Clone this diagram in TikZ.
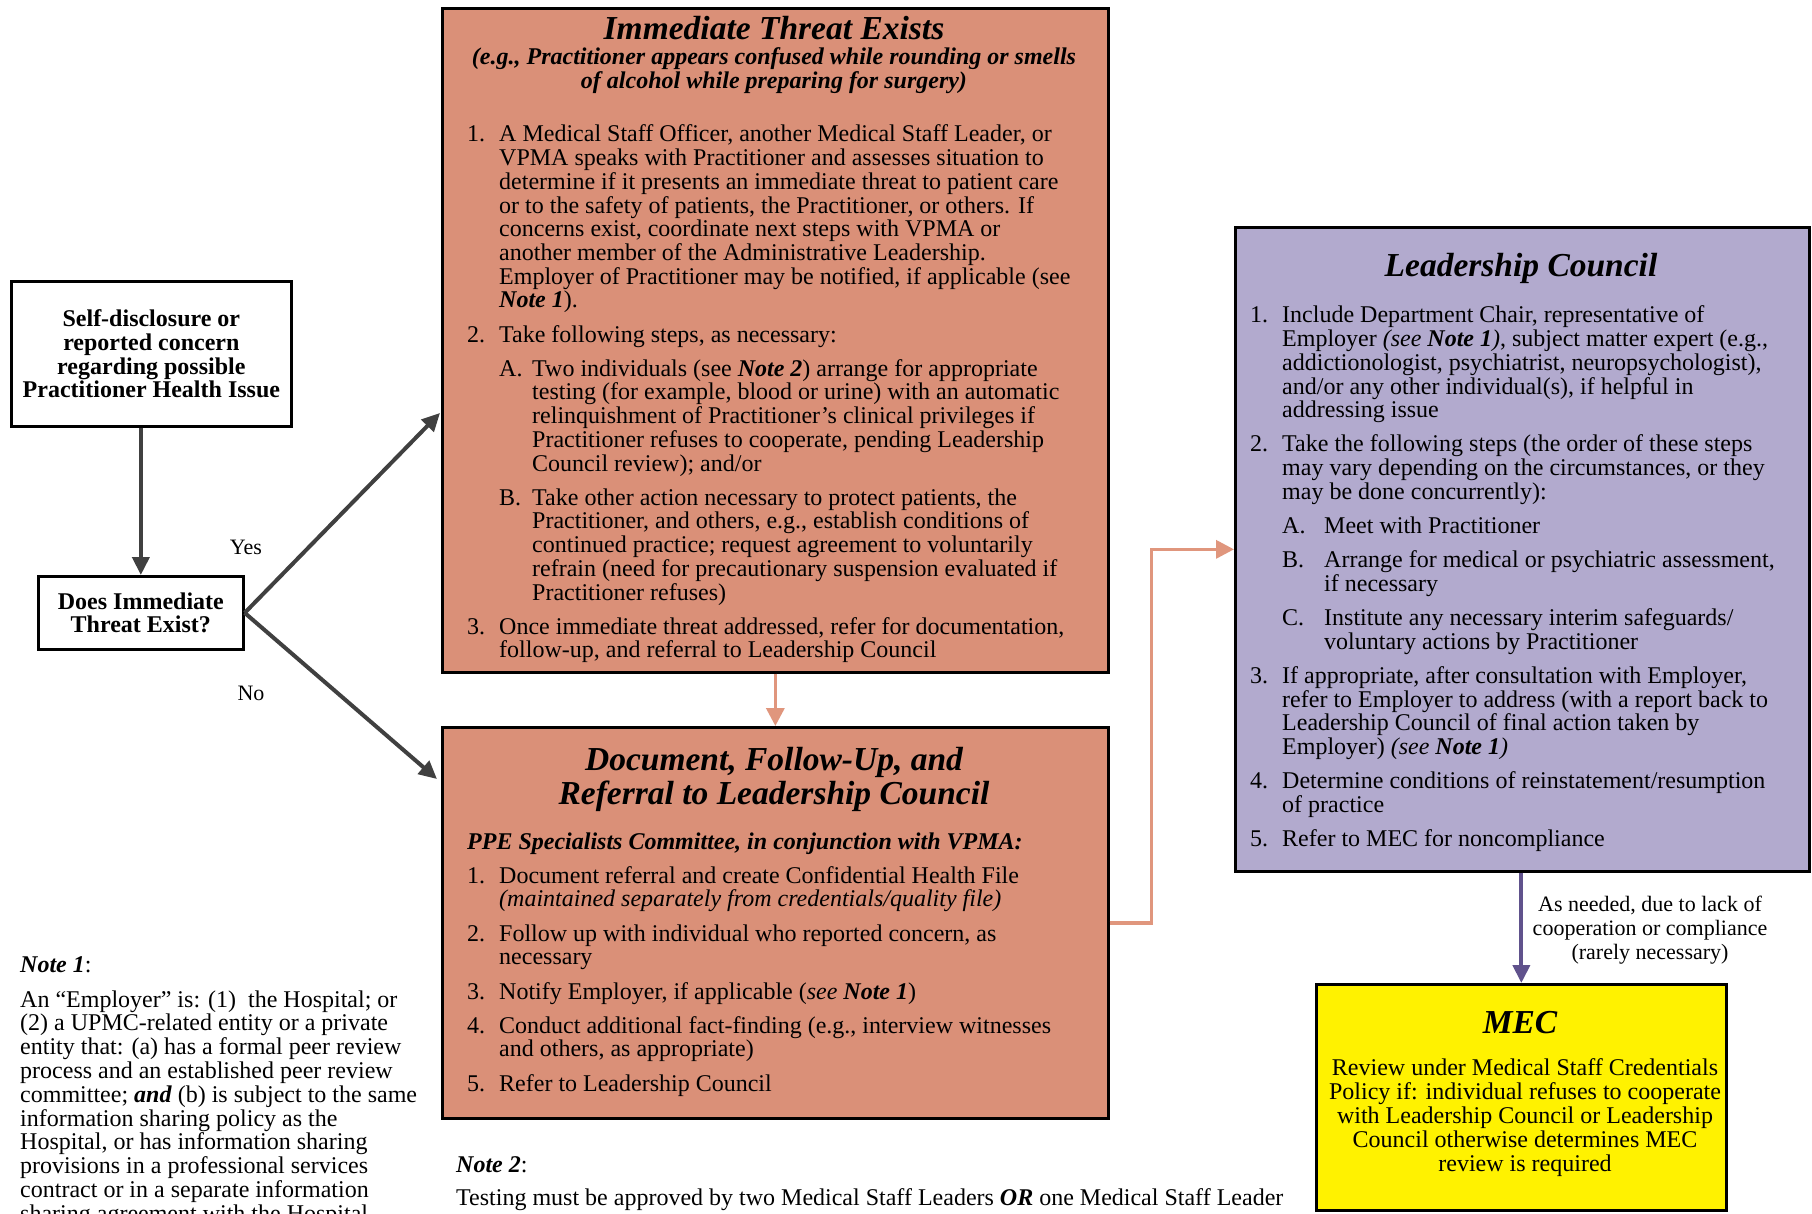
\documentclass[tikz,border=0pt]{standalone}
\usepackage{fontspec}
\setmainfont{Liberation Serif}
\usetikzlibrary{arrows.meta,calc}
\definecolor{orangefill}{RGB}{218,144,120}
\definecolor{lcfill}{RGB}{178,170,206}
\definecolor{orangeline}{RGB}{224,150,125}
\definecolor{purpleline}{RGB}{96,82,140}
\definecolor{darkline}{RGB}{64,64,64}
\newcommand\bodyfont{\fontsize{24}{23.7}\selectfont}
\newcommand\boldbody{\fontsize{24}{23.7}\selectfont\bfseries}
\newcommand\notefont{\fontsize{22}{24}\selectfont}
\newcommand\noteonefont{\fontsize{24}{23.8}\selectfont}
\newcommand\titlefont{\fontsize{33.5}{34.7}\selectfont\bfseries\itshape}
\newcommand\bi[1]{\textbf{\textit{#1}}}
\newcommand\myitem[4]{\par\noindent\hangindent=#2pt\hangafter=1\hspace*{#1pt}\makebox[\dimexpr#2pt-#1pt\relax][l]{#3}#4\par}
\newcommand\gap{\vspace{10.5pt}}
\newcommand\listbox[2]{\parbox[t]{#1pt}{\bodyfont\parindent=0pt\rightskip=0pt plus 1fil\relax #2}}
\begin{document}
\begin{tikzpicture}[x=1pt,y=-1pt,
  plainbox/.style={draw=black, line width=2.7pt, fill=white, inner sep=0pt},
  obox/.style={draw=black, line width=2.7pt, fill=orangefill, inner sep=0pt},
  lbox/.style={draw=black, line width=2.7pt, fill=lcfill, inner sep=0pt},
  mbox/.style={draw=black, line width=2.7pt, fill=yellow, inner sep=0pt},
  txt/.style={inner sep=0pt, anchor=base west},
  ctxt/.style={inner sep=0pt, anchor=base},
  darrow/.style={draw=darkline, line width=4pt, -{Triangle[length=18pt,width=17pt]}},
  oarrow/.style={draw=orangeline, line width=3.5pt, -{Triangle[length=18pt,width=18pt]}},
  parrow/.style={draw=purpleline, line width=4pt, -{Triangle[length=18pt,width=17pt]}}
]
\useasboundingbox (0,0) rectangle (1812,1214);
\fill[white] (0,0) rectangle (1812,1214);

% boxes
\node[plainbox, minimum width=280pt, minimum height=145pt, anchor=north west, align=center, font=\boldbody] (selfbox) at (10,280) {Self-disclosure or\\reported concern\\regarding possible\\Practitioner Health Issue};
\node[plainbox, minimum width=205pt, minimum height=73pt, anchor=north west, align=center, font=\boldbody] (doesbox) at (37,575) {Does Immediate\\Threat Exist?};
\node[obox, minimum width=666pt, minimum height=664pt, anchor=north west] (itbox) at (441,7) {};
\node[obox, minimum width=666pt, minimum height=391pt, anchor=north west] (docbox) at (441,726) {};
\node[lbox, minimum width=574pt, minimum height=644pt, anchor=north west] (lcbox) at (1234,226) {};
\node[mbox, minimum width=410pt, minimum height=226pt, anchor=north west] (mecbox) at (1315,983) {};

% Immediate threat box text
\node[ctxt, font=\titlefont] (ittitle) at (774,40) {Immediate Threat Exists};
\node[ctxt] (itsub) at (774,65) {\parbox[t]{640pt}{\centering\fontsize{24}{24}\selectfont\bfseries\itshape (e.g., Practitioner appears confused while rounding or smells\\of alcohol while preparing for surgery)}};
\node[txt] (itlist) at (467,142) {\listbox{640}{%
\myitem{0}{32}{1.}{A Medical Staff Officer, another Medical Staff Leader, or\\VPMA speaks with Practitioner and assesses situation to\\determine if it presents an immediate threat to patient care\\or to the safety of patients, the Practitioner, or others. If\\concerns exist, coordinate next steps with VPMA or\\another member of the Administrative Leadership.\\Employer of Practitioner may be notified, if applicable (see\\\bi{Note 1}).}
\gap
\myitem{0}{32}{2.}{Take following steps, as necessary:}
\gap
\myitem{32}{65}{A.}{Two individuals (see \bi{Note 2}) arrange for appropriate\\testing (for example, blood or urine) with an automatic\\relinquishment of Practitioner’s clinical privileges if\\Practitioner refuses to cooperate, pending Leadership\\Council review); and/or}
\gap
\myitem{32}{65}{B.}{Take other action necessary to protect patients, the\\Practitioner, and others, e.g., establish conditions of\\continued practice; request agreement to voluntarily\\refrain (need for precautionary suspension evaluated if\\Practitioner refuses)}
\gap
\myitem{0}{32}{3.}{Once immediate threat addressed, refer for documentation,\\follow-up, and referral to Leadership Council}}};

% Document box text
\node[ctxt] (doctitle) at (774,770) {\parbox[t]{640pt}{\centering\titlefont Document, Follow-Up, and\\Referral to Leadership Council}};
\node[txt] (doclist) at (467,849) {\listbox{640}{%
\bi{PPE Specialists Committee, in conjunction with VPMA:}\par
\gap
\myitem{0}{32}{1.}{Document referral and create Confidential Health File\\\textit{(maintained separately from credentials/quality file)}}
\gap
\myitem{0}{32}{2.}{Follow up with individual who reported concern, as\\necessary}
\gap
\myitem{0}{32}{3.}{Notify Employer, if applicable (\textit{see \textbf{Note 1}})}
\gap
\myitem{0}{32}{4.}{Conduct additional fact-finding (e.g., interview witnesses\\and others, as appropriate)}
\gap
\myitem{0}{32}{5.}{Refer to Leadership Council}}};

% Leadership council text
\node[ctxt, font=\titlefont] (lctitle) at (1521,277) {Leadership Council};
\node[txt] (lclist) at (1250,323) {\listbox{550}{%
\myitem{0}{32}{1.}{Include Department Chair, representative of\\Employer \textit{(see \textbf{Note 1})}, subject matter expert (e.g.,\\addictionologist, psychiatrist, neuropsychologist),\\and/or any other individual(s), if helpful in\\addressing issue}
\gap
\myitem{0}{32}{2.}{Take the following steps (the order of these steps\\may vary depending on the circumstances, or they\\may be done concurrently):}
\gap
\myitem{32}{74}{A.}{Meet with Practitioner}
\gap
\myitem{32}{74}{B.}{Arrange for medical or psychiatric assessment,\\if necessary}
\gap
\myitem{32}{74}{C.}{Institute any necessary interim safeguards/\\voluntary actions by Practitioner}
\gap
\myitem{0}{32}{3.}{If appropriate, after consultation with Employer,\\refer to Employer to address (with a report back to\\Leadership Council of final action taken by\\Employer) \textit{(see \textbf{Note 1})}}
\gap
\myitem{0}{32}{4.}{Determine conditions of reinstatement/resumption\\of practice}
\gap
\myitem{0}{32}{5.}{Refer to MEC for noncompliance}}};

% MEC text
\node[ctxt, font=\titlefont] (mectitle) at (1520,1033) {MEC};
\node[ctxt] (mecbody) at (1525,1075) {\parbox[t]{420pt}{\centering\fontsize{24}{24}\selectfont Review under Medical Staff Credentials\\Policy if: individual refuses to cooperate\\with Leadership Council or Leadership\\Council otherwise determines MEC\\review is required}};

% notes
\node[txt, font=\noteonefont] (note1label) at (20,972) {\bi{Note 1}:};
\node[txt] (note1body) at (20,1007) {\parbox[t]{430pt}{\noteonefont\parindent=0pt An “Employer” is: (1)\ \ the Hospital; or\\(2) a UPMC-related entity or a private\\entity that: (a) has a formal peer review\\process and an established peer review\\committee; \bi{and} (b) is subject to the same\\information sharing policy as the\\Hospital, or has information sharing\\provisions in a professional services\\contract or in a separate information\\sharing agreement with the Hospital}};
\node[txt, font=\bodyfont] (note2label) at (456,1172) {\bi{Note 2}:};
\node[txt, font=\bodyfont] (note2body) at (456,1205) {Testing must be approved by two Medical Staff Leaders \bi{OR} one Medical Staff Leader};

% labels
\node[ctxt, font=\notefont] (yeslabel) at (246,554) {Yes};
\node[ctxt, font=\notefont] (nolabel) at (251,700) {No};
\node[ctxt] (mecarrowlabel) at (1650,911) {\parbox[t]{300pt}{\centering\notefont As needed, due to lack of\\cooperation or compliance\\(rarely necessary)}};

% connectors
\coordinate (yesend) at ($(itbox.north west)+(-1,406)$);
\coordinate (noend) at ($(docbox.north west)+(-4,53)$);
\draw[darrow] (selfbox.south -| doesbox.north) -- (doesbox.north);
\draw[darrow] (doesbox.east) -- (yesend);
\draw[darrow] (doesbox.east) -- (noend);
\draw[oarrow] (itbox.south) -- (docbox.north);
\draw[oarrow] (docbox.east) -- ++(42,0) |- (lcbox.west);
\draw[parrow] (lcbox.south -| mecbox.north) -- (mecbox.north);
\end{tikzpicture}
\end{document}
